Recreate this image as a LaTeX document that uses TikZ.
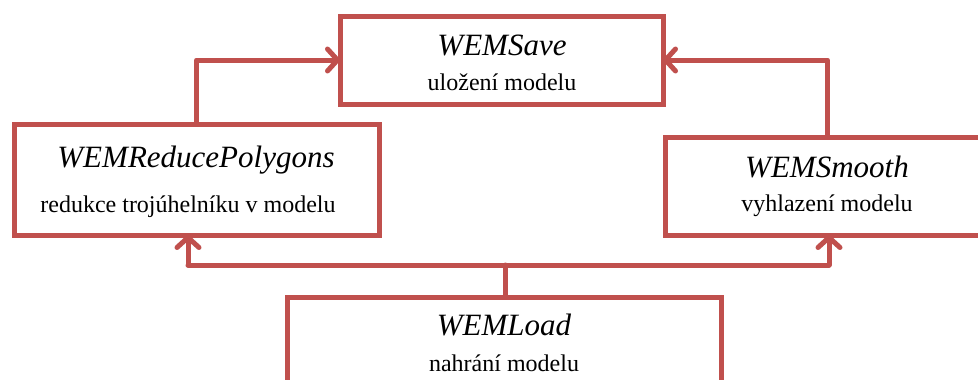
\documentclass[tikz,border=0pt]{standalone}
\usepackage{fontspec}
\setmainfont{Liberation Serif}
\usetikzlibrary{arrows.meta}
\definecolor{boxred}{HTML}{C0504D}
\tikzset{
  wbox/.style={draw=boxred, line width=5pt, fill=white, rectangle, inner sep=0pt, outer sep=0pt},
  ttl/.style={anchor=base, inner sep=0pt, font=\fontsize{31}{36}\selectfont\itshape},
  sub/.style={anchor=base, inner sep=0pt, font=\fontsize{24}{28}\selectfont},
  conn/.style={draw=boxred, line width=5pt, line join=round, line cap=round},
  arr/.style={conn, -{Straight Barb[length=10pt,width=22pt,line width=5pt,round]}},
}
\begin{document}
\begin{tikzpicture}[x=1pt,y=-1pt]
\useasboundingbox (0,0) rectangle (978,380);
% boxes
\node[wbox, minimum width=323pt, minimum height=88pt] (save) at (501.5,60) {};
\node[wbox, minimum width=365pt, minimum height=111pt] (rp) at (196.5,179.5) {};
\node[wbox, minimum width=325pt, minimum height=98pt] (sm) at (827.5,186) {};
\node[wbox, minimum width=434pt, minimum height=140pt] (ld) at (504,367) {};
% texts
\node[ttl] (saveT) at (502,55) {WEMSave};
\node[sub] (saveS) at (502,90) {uložení modelu};
\node[ttl] (rpT) at (196,167) {WEMReducePolygons};
\node[sub] (rpS) at (188,212) {redukce trojúhelníku v modelu};
\node[ttl] (smT) at (827,177) {WEMSmooth};
\node[sub] (smS) at (827,211) {vyhlazení modelu};
\node[ttl] (ldT) at (504,335) {WEMLoad};
\node[sub] (ldS) at (504,371) {nahrání modelu};
% connectors
\coordinate (topL) at (rp.north |- save.west);
\coordinate (topR) at (sm.north |- save.east);
\draw[arr] (rp.north) -- (topL) -- (save.west);
\draw[arr] (sm.north) -- (topR) -- (save.east);
\coordinate (hub) at (505,265);
\coordinate (hubL) at (188,265);
\coordinate (hubR) at (829,265);
\draw[conn] (ld.north -| hub) -- (hub);
\draw[conn] (hubL) -- (hubR);
\draw[arr] (hubL) -- (hubL |- rp.south);
\draw[arr] (hubR) -- (hubR |- sm.south);
\end{tikzpicture}
\end{document}
